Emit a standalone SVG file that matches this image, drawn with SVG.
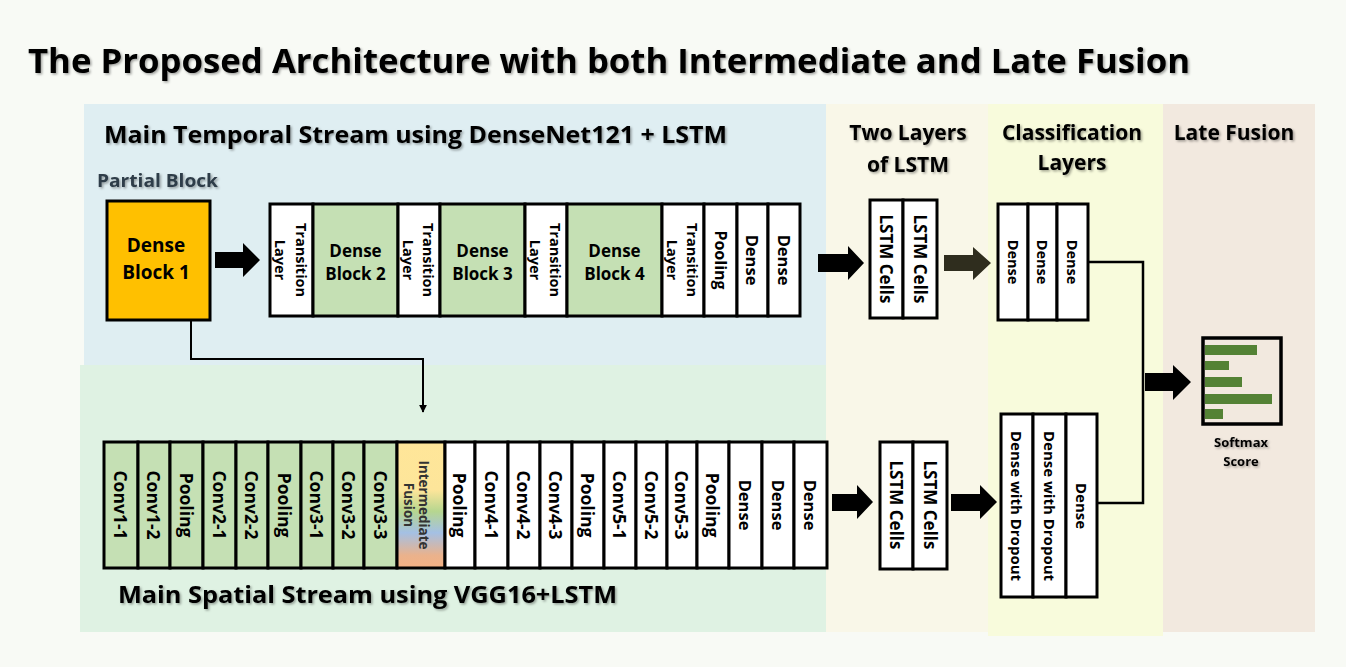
<svg xmlns="http://www.w3.org/2000/svg" width="1346" height="667" viewBox="0 0 1346 667">
<style>
text{font-family:"Open Sans","Liberation Sans",sans-serif;font-weight:bold;fill:#000}
.cell{stroke:#000;stroke-width:3}
.w{fill:#fff}
.g{fill:#c5e0b4}
.rt{text-anchor:middle;dominant-baseline:central}
.h{filter:url(#sh)}
.ar{fill:#000}
.ln{fill:none;stroke:#000;stroke-width:2.5}
</style>
<defs>
<filter id="sh" x="-5%" y="-30%" width="110%" height="160%">
<feDropShadow dx="1.5" dy="1.5" stdDeviation="1" flood-color="#000" flood-opacity="0.35"/>
</filter>
<linearGradient id="fus" x1="0" y1="0" x2="0" y2="1">
<stop offset="0" stop-color="#ffe699"/>
<stop offset="0.38" stop-color="#fde59a"/>
<stop offset="0.55" stop-color="#b6d68f"/>
<stop offset="0.72" stop-color="#a4c0e4"/>
<stop offset="0.9" stop-color="#eab28c"/>
<stop offset="1" stop-color="#f4b183"/>
</linearGradient>
<marker id="ah" viewBox="0 0 10 10" refX="9" refY="5" markerWidth="4" markerHeight="4" orient="auto">
<path d="M0,0 L10,5 L0,10 z" fill="#000"/>
</marker>
</defs>
<rect width="1346" height="667" fill="#f8faf5"/>
<!-- panels -->
<rect x="84" y="104" width="742" height="261" fill="#dfeef2"/>
<rect x="80" y="365" width="746" height="267" fill="#dff2e3"/>
<rect x="826" y="104" width="162" height="528" fill="#f9f7e8"/>
<rect x="988" y="104" width="175" height="532" fill="#f8fbdc"/>
<rect x="1163" y="104" width="152" height="528" fill="#f2e9df"/>
<!-- titles -->
<text x="28" y="73" font-size="34" textLength="1162" lengthAdjust="spacingAndGlyphs" class="h">The Proposed Architecture with both Intermediate and Late Fusion</text>
<text x="104" y="143" font-size="24" textLength="623" lengthAdjust="spacingAndGlyphs" class="h">Main Temporal Stream using DenseNet121 + LSTM</text>
<text x="118" y="603" font-size="24" textLength="499" lengthAdjust="spacingAndGlyphs" class="h">Main Spatial Stream using VGG16+LSTM</text>
<text x="908" y="140" font-size="21" text-anchor="middle" class="h">Two Layers</text>
<text x="908" y="172" font-size="21" text-anchor="middle" class="h">of LSTM</text>
<text x="1072" y="140" font-size="21" text-anchor="middle" class="h">Classification</text>
<text x="1072" y="170" font-size="21" text-anchor="middle" class="h">Layers</text>
<text x="1234" y="140" font-size="21" text-anchor="middle" class="h">Late Fusion</text>
<text x="97" y="187" font-size="18" textLength="121" lengthAdjust="spacingAndGlyphs" style="fill:#2f3c48" class="h">Partial Block</text>

<!-- connectors -->
<g id="connectors">
<polygon class="ar" points="215,252 243,252 243,243 260,260 243,277 243,268 215,268"/>
<polygon class="ar" points="818,254 848,254 848,246 864,263 848,280 848,272 818,272"/>
<polygon points="944,255 973,255 973,247 991,263 973,280 973,271 944,271" fill="#2f2d1e"/>
<polygon class="ar" points="832,494 857,494 857,485 873,502 857,519 857,511 832,511"/>
<polygon class="ar" points="951,494 980,494 980,485 997,502 980,519 980,511 951,511"/>
<polygon class="ar" points="1145,373 1173,373 1173,365 1191,382 1173,400 1173,391 1145,391"/>
<path class="ln" d="M1089,262 H1143 V503 H1097"/>
<path d="M191,320 V359 H423 V412" fill="none" stroke="#000" stroke-width="2" marker-end="url(#ah)"/>
</g>

<!-- Dense Block 1 -->
<g id="dense-block-1">
<rect x="107" y="201" width="103" height="119" fill="#ffc000" class="cell"/>
<text x="156" y="252" font-size="19" text-anchor="middle">Dense</text>
<text x="156" y="279" font-size="19" text-anchor="middle">Block 1</text>
</g>

<!-- temporal row -->
<g id="temporal-row">
<rect x="270" y="204" width="43" height="112" class="cell w"/>
<g transform="translate(291.5,260) rotate(90)"><text class="rt" y="-9.5" font-size="14.5">Transition</text><text class="rt" y="11" font-size="14.5">Layer</text></g>
<rect x="313" y="204" width="85" height="112" class="cell g"/>
<text x="355.5" y="257" font-size="17" text-anchor="middle">Dense</text>
<text x="355.5" y="280" font-size="17" text-anchor="middle">Block 2</text>
<rect x="398" y="204" width="42" height="112" class="cell w"/>
<g transform="translate(419,260) rotate(90)"><text class="rt" y="-9.5" font-size="14.5">Transition</text><text class="rt" y="11" font-size="14.5">Layer</text></g>
<rect x="440" y="204" width="85" height="112" class="cell g"/>
<text x="482.5" y="257" font-size="17" text-anchor="middle">Dense</text>
<text x="482.5" y="280" font-size="17" text-anchor="middle">Block 3</text>
<rect x="525" y="204" width="42" height="112" class="cell w"/>
<g transform="translate(546,260) rotate(90)"><text class="rt" y="-9.5" font-size="14.5">Transition</text><text class="rt" y="11" font-size="14.5">Layer</text></g>
<rect x="567" y="204" width="95" height="112" class="cell g"/>
<text x="614.5" y="257" font-size="17" text-anchor="middle">Dense</text>
<text x="614.5" y="280" font-size="17" text-anchor="middle">Block 4</text>
<rect x="662" y="204" width="42" height="112" class="cell w"/>
<g transform="translate(683,260) rotate(90)"><text class="rt" y="-9.5" font-size="14.5">Transition</text><text class="rt" y="11" font-size="14.5">Layer</text></g>
<rect x="704" y="204" width="33" height="112" class="cell w"/>
<g transform="translate(720.5,260) rotate(90)"><text class="rt" font-size="16">Pooling</text></g>
<rect x="737" y="204" width="31" height="112" class="cell w"/>
<g transform="translate(752.5,260) rotate(90)"><text class="rt" font-size="16.5">Dense</text></g>
<rect x="768" y="204" width="32" height="112" class="cell w"/>
<g transform="translate(784,260) rotate(90)"><text class="rt" font-size="16.5">Dense</text></g>
</g>

<!-- top LSTM -->
<g id="lstm-top">
<rect x="870" y="200" width="33" height="118" class="cell w"/>
<rect x="903" y="200" width="34" height="118" class="cell w"/>
<g transform="translate(886.5,259) rotate(90)"><text class="rt" font-size="17">LSTM Cells</text></g>
<g transform="translate(920,259) rotate(90)"><text class="rt" font-size="17">LSTM Cells</text></g>
</g>

<!-- top classification -->
<g id="class-top">
<rect x="998" y="204" width="30" height="116" class="cell w"/>
<rect x="1028" y="204" width="29" height="116" class="cell w"/>
<rect x="1057" y="204" width="31" height="116" class="cell w"/>
<g transform="translate(1013,262) rotate(90)"><text class="rt" font-size="14.5">Dense</text></g>
<g transform="translate(1042.5,262) rotate(90)"><text class="rt" font-size="14.5">Dense</text></g>
<g transform="translate(1072.5,262) rotate(90)"><text class="rt" font-size="14.5">Dense</text></g>
</g>

<!-- spatial row -->
<g id="spatial-row">
<rect x="104" y="442" width="34" height="126" class="cell g"/>
<g transform="translate(121,505) rotate(90)"><text class="rt" font-size="17.5">Conv1-1</text></g>
<rect x="138" y="442" width="32" height="126" class="cell g"/>
<g transform="translate(154,505) rotate(90)"><text class="rt" font-size="17.5">Conv1-2</text></g>
<rect x="170" y="442" width="33" height="126" class="cell g"/>
<g transform="translate(186.5,505) rotate(90)"><text class="rt" font-size="17.5">Pooling</text></g>
<rect x="203" y="442" width="33" height="126" class="cell g"/>
<g transform="translate(219.5,505) rotate(90)"><text class="rt" font-size="17.5">Conv2-1</text></g>
<rect x="236" y="442" width="32" height="126" class="cell g"/>
<g transform="translate(252,505) rotate(90)"><text class="rt" font-size="17.5">Conv2-2</text></g>
<rect x="268" y="442" width="33" height="126" class="cell g"/>
<g transform="translate(284.5,505) rotate(90)"><text class="rt" font-size="17.5">Pooling</text></g>
<rect x="301" y="442" width="32" height="126" class="cell g"/>
<g transform="translate(317,505) rotate(90)"><text class="rt" font-size="17.5">Conv3-1</text></g>
<rect x="333" y="442" width="31" height="126" class="cell g"/>
<g transform="translate(348.5,505) rotate(90)"><text class="rt" font-size="17.5">Conv3-2</text></g>
<rect x="364" y="442" width="33" height="126" class="cell g"/>
<g transform="translate(380.5,505) rotate(90)"><text class="rt" font-size="17.5">Conv3-3</text></g>
</g>

<g id="intermediate-fusion">
<rect x="397" y="442" width="48" height="126" class="cell" fill="url(#fus)"/>
<g transform="translate(421,505) rotate(90)"><text class="rt" y="-3" font-size="13.5" style="fill:#333">Intermediate</text><text class="rt" y="12" font-size="13.5" style="fill:#333">Fusion</text></g>
</g>

<g id="spatial-row-2">
<rect x="445" y="442" width="30" height="126" class="cell w"/>
<g transform="translate(460,505) rotate(90)"><text class="rt" font-size="17.5">Pooling</text></g>
<rect x="475" y="442" width="33" height="126" class="cell w"/>
<g transform="translate(491.5,505) rotate(90)"><text class="rt" font-size="17.5">Conv4-1</text></g>
<rect x="508" y="442" width="32" height="126" class="cell w"/>
<g transform="translate(524,505) rotate(90)"><text class="rt" font-size="17.5">Conv4-2</text></g>
<rect x="540" y="442" width="32" height="126" class="cell w"/>
<g transform="translate(556,505) rotate(90)"><text class="rt" font-size="17.5">Conv4-3</text></g>
<rect x="572" y="442" width="32" height="126" class="cell w"/>
<g transform="translate(588,505) rotate(90)"><text class="rt" font-size="17.5">Pooling</text></g>
<rect x="604" y="442" width="32" height="126" class="cell w"/>
<g transform="translate(620,505) rotate(90)"><text class="rt" font-size="17.5">Conv5-1</text></g>
<rect x="636" y="442" width="31" height="126" class="cell w"/>
<g transform="translate(651.5,505) rotate(90)"><text class="rt" font-size="17.5">Conv5-2</text></g>
<rect x="667" y="442" width="30" height="126" class="cell w"/>
<g transform="translate(682,505) rotate(90)"><text class="rt" font-size="17.5">Conv5-3</text></g>
<rect x="697" y="442" width="32" height="126" class="cell w"/>
<g transform="translate(713,505) rotate(90)"><text class="rt" font-size="17.5">Pooling</text></g>
<rect x="729" y="442" width="33" height="126" class="cell w"/>
<g transform="translate(745.5,505) rotate(90)"><text class="rt" font-size="16.5">Dense</text></g>
<rect x="762" y="442" width="32" height="126" class="cell w"/>
<g transform="translate(778,505) rotate(90)"><text class="rt" font-size="16.5">Dense</text></g>
<rect x="794" y="442" width="33" height="126" class="cell w"/>
<g transform="translate(810.5,505) rotate(90)"><text class="rt" font-size="16.5">Dense</text></g>
</g>

<!-- bottom LSTM -->
<g id="lstm-bottom">
<rect x="880" y="442" width="33" height="127" class="cell w"/>
<rect x="913" y="442" width="34" height="127" class="cell w"/>
<g transform="translate(896.5,505) rotate(90)"><text class="rt" font-size="17">LSTM Cells</text></g>
<g transform="translate(930,505) rotate(90)"><text class="rt" font-size="17">LSTM Cells</text></g>
</g>

<!-- bottom classification -->
<g id="class-bottom">
<rect x="1001" y="414" width="32" height="183" class="cell w"/>
<rect x="1033" y="414" width="33" height="183" class="cell w"/>
<rect x="1066" y="414" width="31" height="183" class="cell w"/>
<g transform="translate(1017,506) rotate(90)"><text class="rt" font-size="15">Dense with Dropout</text></g>
<g transform="translate(1049.5,506) rotate(90)"><text class="rt" font-size="15">Dense with Dropout</text></g>
<g transform="translate(1081.5,506) rotate(90)"><text class="rt" font-size="15">Dense</text></g>
</g>

<!-- softmax -->
<g id="softmax">
<rect x="1203" y="338" width="78" height="86" fill="none" stroke="#000" stroke-width="3.5"/>
<rect x="1205" y="345" width="52" height="10" fill="#548235"/>
<rect x="1205" y="361" width="24" height="9" fill="#548235"/>
<rect x="1205" y="377" width="37" height="10" fill="#548235"/>
<rect x="1205" y="394" width="67" height="10" fill="#548235"/>
<rect x="1205" y="409" width="18" height="10" fill="#548235"/>
<text x="1241" y="447" font-size="13" text-anchor="middle" class="h">Softmax</text>
<text x="1241" y="466" font-size="13" text-anchor="middle" class="h">Score</text>
</g>
</svg>
